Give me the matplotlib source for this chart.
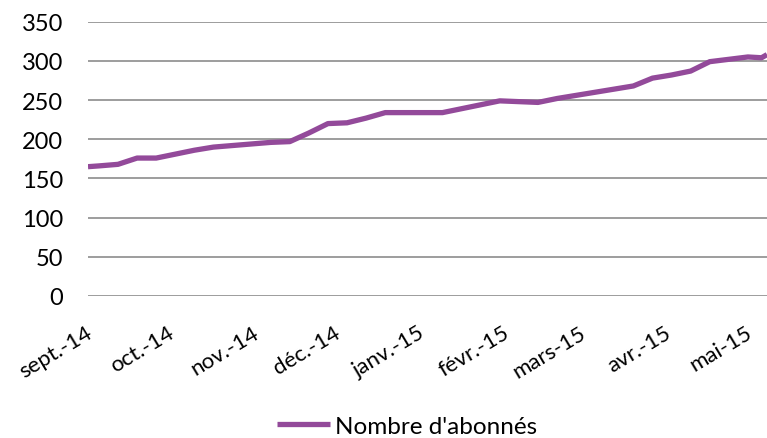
import matplotlib
matplotlib.use('Agg')
import matplotlib.pyplot as plt
import matplotlib.transforms as mtransforms
import pandas as pd

# weekly readings (Fridays) of the subscriber count
dates = ['2014-09-01', '2014-09-05', '2014-09-12', '2014-09-19', '2014-09-26',
         '2014-10-03', '2014-10-10', '2014-10-17', '2014-10-24', '2014-10-31',
         '2014-11-07', '2014-11-14', '2014-11-21', '2014-11-28', '2014-12-05',
         '2014-12-12', '2014-12-19', '2014-12-26', '2015-01-02', '2015-01-09',
         '2015-01-16', '2015-01-23', '2015-01-30', '2015-02-06', '2015-02-13',
         '2015-02-20', '2015-02-27', '2015-03-06', '2015-03-13', '2015-03-20',
         '2015-03-27', '2015-04-03', '2015-04-10', '2015-04-17', '2015-04-24',
         '2015-05-01', '2015-05-06', '2015-05-08']
abonnes = [165, 166, 168, 176, 176,
           181, 186, 190, 192, 194,
           196, 197, 208, 220, 221,
           227, 234, 234, 234, 234,
           239, 244, 249, 248, 247,
           252, 256, 260, 264, 268,
           278, 282, 287, 299, 302,
           305, 304, 308]

month_labels = ['sept.-14', 'oct.-14', 'nov.-14', 'déc.-14', 'janv.-15',
                'févr.-15', 'mars-15', 'avr.-15', 'mai-15']

x = pd.to_datetime(dates)
ticks = pd.date_range('2014-09-01', '2015-05-01', freq='MS')

plt.rcParams['font.family'] = ['Lato', 'DejaVu Sans']
fig = plt.figure(figsize=(7.67, 4.39), dpi=100)
ax = fig.add_axes([88/767, 1 - 297/439, 1 - 88/767, (297 - 22.7)/439])

line, = ax.plot(x, abonnes, color='#934A9A', lw=3.8, solid_capstyle='butt',
                label="Nombre d'abonnés")

ax.set_ylim(0, 350)
ax.set_yticks(range(0, 351, 50))
ax.set_xlim(x[0], x[-1])
ax.set_xticks(ticks)
ax.set_xticklabels(month_labels, rotation=31, ha='right', va='center',
                   rotation_mode='anchor')
ax.grid(axis='y', color='#8C8C8C', lw=1.2)
ax.set_axisbelow(True)
for s in ax.spines.values():
    s.set_visible(False)
ax.tick_params(axis='y', length=0, pad=18, labelsize=17, colors='black')
ax.tick_params(axis='x', length=0, pad=25, labelsize=16, colors='black')

# nudge the rotated month labels a bit to the right
shift = mtransforms.ScaledTranslation(2/72, 0, fig.dpi_scale_trans)
for lab in ax.get_xticklabels():
    lab.set_transform(lab.get_transform() + shift)

fig.legend(handles=[line], loc='center', bbox_to_anchor=(407/767, 1 - 427/439),
           frameon=False, fontsize=17.5, handlelength=2.2, handletextpad=0.2)

fig.savefig('out.png', dpi=100)
